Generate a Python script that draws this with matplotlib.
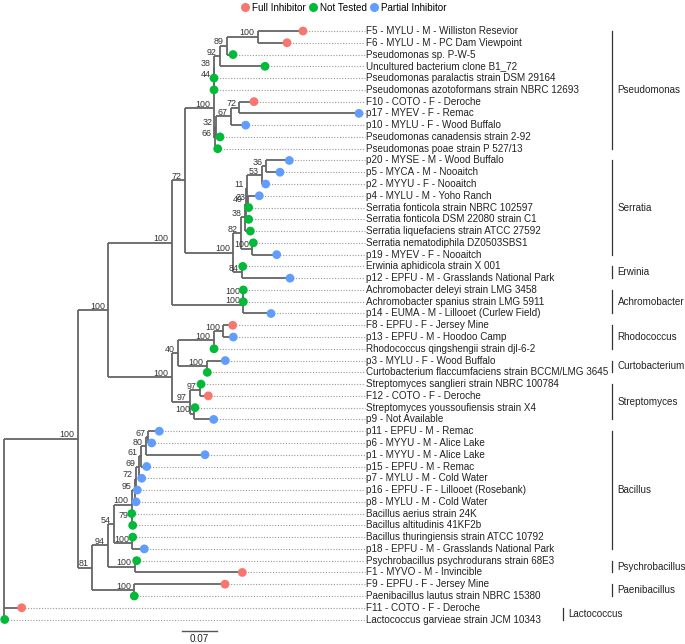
import re
import matplotlib.pyplot as plt

plt.rcParams['font.family'] = ['Liberation Sans', 'DejaVu Sans']

# tip labels, top to bottom
tip_names = [
    'F5 - MYLU - M - Williston Resevior',
    'F6 - MYLU - M - PC Dam Viewpoint',
    'Pseudomonas sp. P-W-5',
    'Uncultured bacterium clone B1_72',
    'Pseudomonas paralactis strain DSM 29164',
    'Pseudomonas azotoformans strain NBRC 12693',
    'F10 - COTO - F - Deroche',
    'p17 - MYEV - F - Remac',
    'p10 - MYLU - F - Wood Buffalo',
    'Pseudomonas canadensis strain 2-92',
    'Pseudomonas poae strain P 527/13',
    'p20 - MYSE - M - Wood Buffalo',
    'p5 - MYCA - M - Nooaitch',
    'p2 - MYYU - F - Nooaitch',
    'p4 - MYLU - M - Yoho Ranch',
    'Serratia fonticola strain NBRC 102597',
    'Serratia fonticola DSM 22080 strain C1',
    'Serratia liquefaciens strain ATCC 27592',
    'Serratia nematodiphila DZ0503SBS1',
    'p19 - MYEV - F - Nooaitch',
    'Erwinia aphidicola strain X 001',
    'p12 - EPFU - M - Grasslands National Park',
    'Achromobacter deleyi strain LMG 3458',
    'Achromobacter spanius strain LMG 5911',
    'p14 - EUMA - M - Lillooet (Curlew Field)',
    'F8 - EPFU - F - Jersey Mine',
    'p13 - EPFU - M - Hoodoo Camp',
    'Rhodococcus qingshengii strain djl-6-2',
    'p3 - MYLU - F - Wood Buffalo',
    'Curtobacterium flaccumfaciens strain BCCM/LMG 3645',
    'Streptomyces sanglieri strain NBRC 100784',
    'F12 - COTO - F - Deroche',
    'Streptomyces youssoufiensis strain X4',
    'p9 - Not Available',
    'p11 - EPFU - M - Remac',
    'p6 - MYYU - M - Alice Lake',
    'p1 - MYYU - M - Alice Lake',
    'p15 - EPFU - M - Remac',
    'p7 - MYLU - M - Cold Water',
    'p16 - EPFU - F - Lillooet (Rosebank)',
    'p8 - MYLU - M - Cold Water',
    'Bacillus aerius strain 24K',
    'Bacillus altitudinis 41KF2b',
    'Bacillus thuringiensis strain ATCC 10792',
    'p18 - EPFU - M - Grasslands National Park',
    'Psychrobacillus psychrodurans strain 68E3',
    'F1 - MYVO - M - Invincible',
    'F9 - EPFU - F - Jersey Mine',
    'Paenibacillus lautus strain NBRC 15380',
    'F11 - COTO - F - Deroche',
    'Lactococcus garvieae strain JCM 10343',
]

# F = full inhibitor, N = not tested, P = partial inhibitor
tip_status = list('FFNNNNFPPNN' 'PPPPNNNNPNP' 'NNP' 'FPNPN' 'NFNP'
                  'PPPPPPPNNNP' 'NF' 'FN' 'FN')

status_labels = ['Full Inhibitor', 'Not Tested', 'Partial Inhibitor']
status_keys = ['F', 'N', 'P']
status_colors = ['#F8766D', '#00BA38', '#619CFF']

clade_names = ['Pseudomonas', 'Serratia', 'Erwinia', 'Achromobacter', 'Rhodococcus',
               'Curtobacterium', 'Streptomyces', 'Bacillus', 'Psychrobacillus',
               'Paenibacillus', 'Lactococcus']
clade_first = [0, 11, 20, 22, 25, 28, 30, 34, 45, 47, 49]
clade_last = [10, 19, 21, 24, 27, 29, 33, 44, 46, 48, 50]

# topology with branch lengths (substitutions/site) and bootstrap support
tree_newick = (
    "((("
    # Proteobacteria
    "((("
    "(((((t0:0.0906,t1:0.0586)100:0.062,t2:0.0126)89:0.0134,t3:0.09)92:0.012,t4:0)38:0.001,t5:0.001)44:0,"
    "((((t6:0.0294,t7:0.2394)72:0.0172,t8:0.03)67:0.0304,t9:0.009)32:0.002,t10:0.0064)66:0.002"
    ")100:0.057,"
    "(((((((t11:0.0466,t12:0.028)36:0.0074,t13:0.0068)53:0.0306,(t14:0.022,t15:0.0008)23:0.0026)11:0.002,"
    "t16:0.0054)49:0.002,t17:0.0106)38:0.0086,(t18:0.002,t19:0.0488)100:0.0232)82:0.0148,"
    "(t20:0.0008,t21:0.0954)84:0.018)100:0.0966"
    ")72:0.0266,"
    "((t22:0,t23:0)100:0,t24:0.0554)100:0.1432"
    ")100:0.1268,"
    # Actinobacteria
    "((((t25:0.0188,t26:0.02)100:0.0186,t27:0)100:0.073,(t28:0.0372,t29:0.0012)100:0.0584)40:0.011,"
    "((t30:0.003,t31:0.0176)97:0.02,(t32:0.003,t33:0.0404)100:0.008)97:0.035)100:0.1274"
    ")100:0.0612,"
    # Firmicutes
    "((("
    "(((((((t34:0.022,t35:0.0068)67:0.0056,t36:0.119)80:0.009,t37:0.0114)61:0.005,t38:0.0064)69:0.005,"
    "t39:0.0026)72:0.003,t40:0.003)95:0.006,(t41:0,t42:0.002)79:0.0004)100:0.0356,"
    "(t43:0.0008,t44:0.024)100:0.0372)54:0.0124,"
    "(t45:0.0034,t46:0.2146)100:0.055)94:0.0316,"
    "(t47:0.1814,t48:0)100:0.0852)81:0.028"
    ")100:0.1468,t49:0.0348,t50:0.0008);"
)

scale_length = 0.07


def parse_newick(s):
    pos = 0

    def node():
        nonlocal pos
        children = []
        if s[pos] == '(':
            pos += 1
            children.append(node())
            while s[pos] == ',':
                pos += 1
                children.append(node())
            pos += 1
        label = re.match(r'[^:,();]*', s[pos:]).group(0)
        pos += len(label)
        length = 0.0
        if pos < len(s) and s[pos] == ':':
            m = re.match(r':([0-9.]+)', s[pos:])
            length = float(m.group(1))
            pos += len(m.group(0))
        return {'label': label, 'length': length, 'children': children}

    return node()


def layout(n, depth=0.0):
    n['x'] = depth + n['length']
    if n['children']:
        for c in n['children']:
            layout(c, n['x'])
        n['y'] = (n['children'][0]['y'] + n['children'][-1]['y']) / 2
    else:
        n['y'] = int(n['label'][1:])


def walk(n):
    yield n
    for c in n['children']:
        yield from walk(c)


root = parse_newick(tree_newick)
layout(root)
nodes = list(walk(root))
tips = [n for n in nodes if not n['children']]

fig = plt.figure(figsize=(6.85, 6.44), dpi=100)
ax = fig.add_axes([0, 0, 1, 1])
ax.set_xlim(-0.0086, 1.3614)
ax.set_ylim(52.08, -2.634)
ax.axis('off')

fs = 7.1
line_col = '#656565'
for n in nodes:
    if not n['children']:
        continue
    ys = [c['y'] for c in n['children']]
    ax.plot([n['x'], n['x']], [min(ys), max(ys)], color=line_col, lw=1.3,
            solid_capstyle='butt', zorder=2)
    for c in n['children']:
        ax.plot([n['x'], c['x']], [c['y'], c['y']], color=line_col, lw=1.3,
                solid_capstyle='butt', zorder=2)
    if n is not root and n['label']:
        ax.annotate(n['label'], (n['x'], n['y']), xytext=(-2.3, 2.8),
                    textcoords='offset points', ha='right', va='center',
                    fontsize=6.4, color='#333333', zorder=4)

label_x = max(t['x'] for t in tips) + 0.014
for t in tips:
    i = t['y']
    col = status_colors[status_keys.index(tip_status[i])]
    ax.plot([t['x'], label_x - 0.003], [i, i], color='#9a9a9a', lw=0.8,
            linestyle=(0, (1, 1.5)), zorder=1)
    ax.scatter([t['x']], [i], s=40, color=col, edgecolors='none', zorder=5)
    ax.text(label_x, i, tip_names[i], ha='left', va='center', fontsize=fs,
            color='#222222')

# clade brackets
bar_x = {'Lactococcus': 1.1174}
for name, a, b in zip(clade_names, clade_first, clade_last):
    bx = bar_x.get(name, 1.2154)
    ax.plot([bx, bx], [a, b], color='#333333', lw=0.9)
    ax.text(bx + 0.011, (a + b) / 2, name, ha='left', va='center',
            fontsize=fs, color='#222222')

# scale bar
sx = 0.3554
sy = 50.95
ax.plot([sx, sx + scale_length], [sy, sy], color='#555555', lw=1.0)
ax.text(sx + scale_length / 2, sy + 0.3, str(scale_length), ha='center',
        va='top', fontsize=fs, color='#222222')

handles = [plt.Line2D([], [], marker='o', linestyle='none', markersize=6.5,
                      markerfacecolor=c, markeredgecolor='none') for c in status_colors]
fig.legend(handles, status_labels, loc='upper center', bbox_to_anchor=(0.502, 1.008),
           ncol=3, frameon=False, handletextpad=0.3, columnspacing=0.3,
           fontsize=fs, handlelength=0.8, borderpad=0.3)

plt.savefig('out.png', dpi=100)
